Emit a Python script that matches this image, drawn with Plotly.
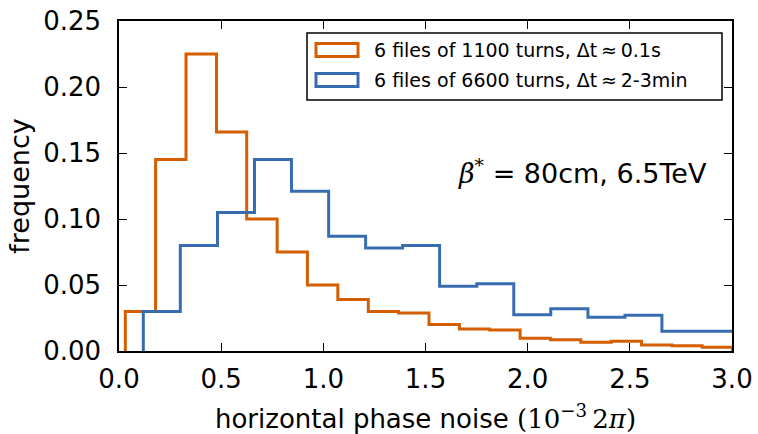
import plotly.graph_objects as go

# Data (step histograms)
orange_edges = [0.031, 0.179, 0.328, 0.477, 0.625, 0.774, 0.922, 1.071, 1.220, 1.368, 1.517,
                1.666, 1.814, 1.963, 2.111, 2.260, 2.409, 2.557, 2.706, 2.854, 3.003]
orange_freq = [0.030, 0.145, 0.225, 0.166, 0.100, 0.075, 0.050, 0.039, 0.030, 0.0288,
               0.020, 0.0167, 0.016, 0.0096, 0.0086, 0.0066, 0.0073, 0.0045, 0.004, 0.0028]
blue_edges = [0.119, 0.300, 0.482, 0.663, 0.844, 1.026, 1.207, 1.388, 1.569, 1.751,
              1.932, 2.113, 2.295, 2.476, 2.657, 2.838, 3.020]
blue_freq = [0.030, 0.080, 0.105, 0.145, 0.121, 0.087, 0.078, 0.080, 0.049, 0.051,
             0.0275, 0.032, 0.0255, 0.027, 0.015, 0.015]

labels = ["6 files of 1100 turns, \u0394t\u2009\u2248\u20090.1s",
          "6 files of 6600 turns, \u0394t\u2009\u2248\u20092-3min"]
x_ticks = [0.0, 0.5, 1.0, 1.5, 2.0, 2.5, 3.0]
y_ticks = [0.00, 0.05, 0.10, 0.15, 0.20, 0.25]

ORANGE = "#d45e00"
BLUE = "#386cb0"
FONT = "DejaVu Sans"


def step_xy(edges, freq):
    xs = [edges[0]] + list(edges) + [edges[-1]]
    ys = [0] + list(freq) + [freq[-1], 0]
    return xs, ys


fig = go.Figure()
for edges, freq, col, name in [(orange_edges, orange_freq, ORANGE, labels[0]),
                               (blue_edges, blue_freq, BLUE, labels[1])]:
    xs, ys = step_xy(edges, freq)
    fig.add_trace(go.Scatter(x=xs, y=ys, mode="lines", line=dict(color=col, width=3, shape="hv"),
                             name=name, showlegend=False, hoverinfo="skip"))

L, R, T, B = 119, 26, 21, 83
W, H = 758, 434
pw, ph = W - L - R, H - T - B


def px(x):
    return (x - L) / pw


def py(y):
    return (H - B - y) / ph


# manual legend (matplotlib-style patch legend)
fig.add_shape(type="rect", xref="paper", yref="paper", x0=px(307), x1=px(722), y0=py(100), y1=py(33),
              line=dict(color="black", width=1.5), fillcolor="white", layer="above")
rows = [(50, ORANGE, labels[0]), (80, BLUE, labels[1])]
for yc, col, txt in rows:
    fig.add_shape(type="rect", xref="paper", yref="paper", x0=px(316), x1=px(358),
                  y0=py(yc + 6.5), y1=py(yc - 6.5), line=dict(color=col, width=3),
                  fillcolor="white", layer="above")
    fig.add_annotation(xref="paper", yref="paper", x=px(372), y=py(yc), text=txt, showarrow=False,
                       xanchor="left", yanchor="middle", font=dict(family=FONT, size=19, color="black"))

fig.add_annotation(xref="paper", yref="paper", x=px(709), y=py(172),
                   text="<span style='font-family:DejaVu Serif'><i>\u03b2</i><sup>*</sup></span> = 80cm, 6.5TeV",
                   showarrow=False, xanchor="right", yanchor="middle",
                   font=dict(family=FONT, size=27, color="black"))

fig.update_layout(
    width=W, height=H,
    margin=dict(l=L, r=R, t=T, b=B, autoexpand=False),
    paper_bgcolor="white", plot_bgcolor="white",
    font=dict(family=FONT, size=26, color="black"),
)

fig.update_xaxes(range=[0, 3.0], tickvals=x_ticks, ticktext=[f"{v:.1f}" for v in x_ticks],
                 ticks="inside", ticklen=8, tickwidth=1, tickcolor="black", ticklabelstandoff=4,
                 showline=True, linecolor="black", linewidth=1.5, mirror="ticks",
                 showgrid=False, zeroline=False, automargin=False,
                 title=dict(text="horizontal phase noise <span style='font-family:DejaVu Serif'>(10<sup>\u22123</sup>\u20092<i>\u03c0</i>)</span>",
                            font=dict(size=26), standoff=18))

fig.update_yaxes(range=[0, 0.25], tickvals=y_ticks, ticktext=[f"{v:.2f}" for v in y_ticks],
                 ticks="inside", ticklen=8, tickwidth=1, tickcolor="black", ticklabelstandoff=11,
                 showline=True, linecolor="black", linewidth=1.5, mirror="ticks",
                 showgrid=False, zeroline=False, automargin=False,
                 title=dict(text="frequency", font=dict(size=27), standoff=6))

fig.write_html("out.html")
